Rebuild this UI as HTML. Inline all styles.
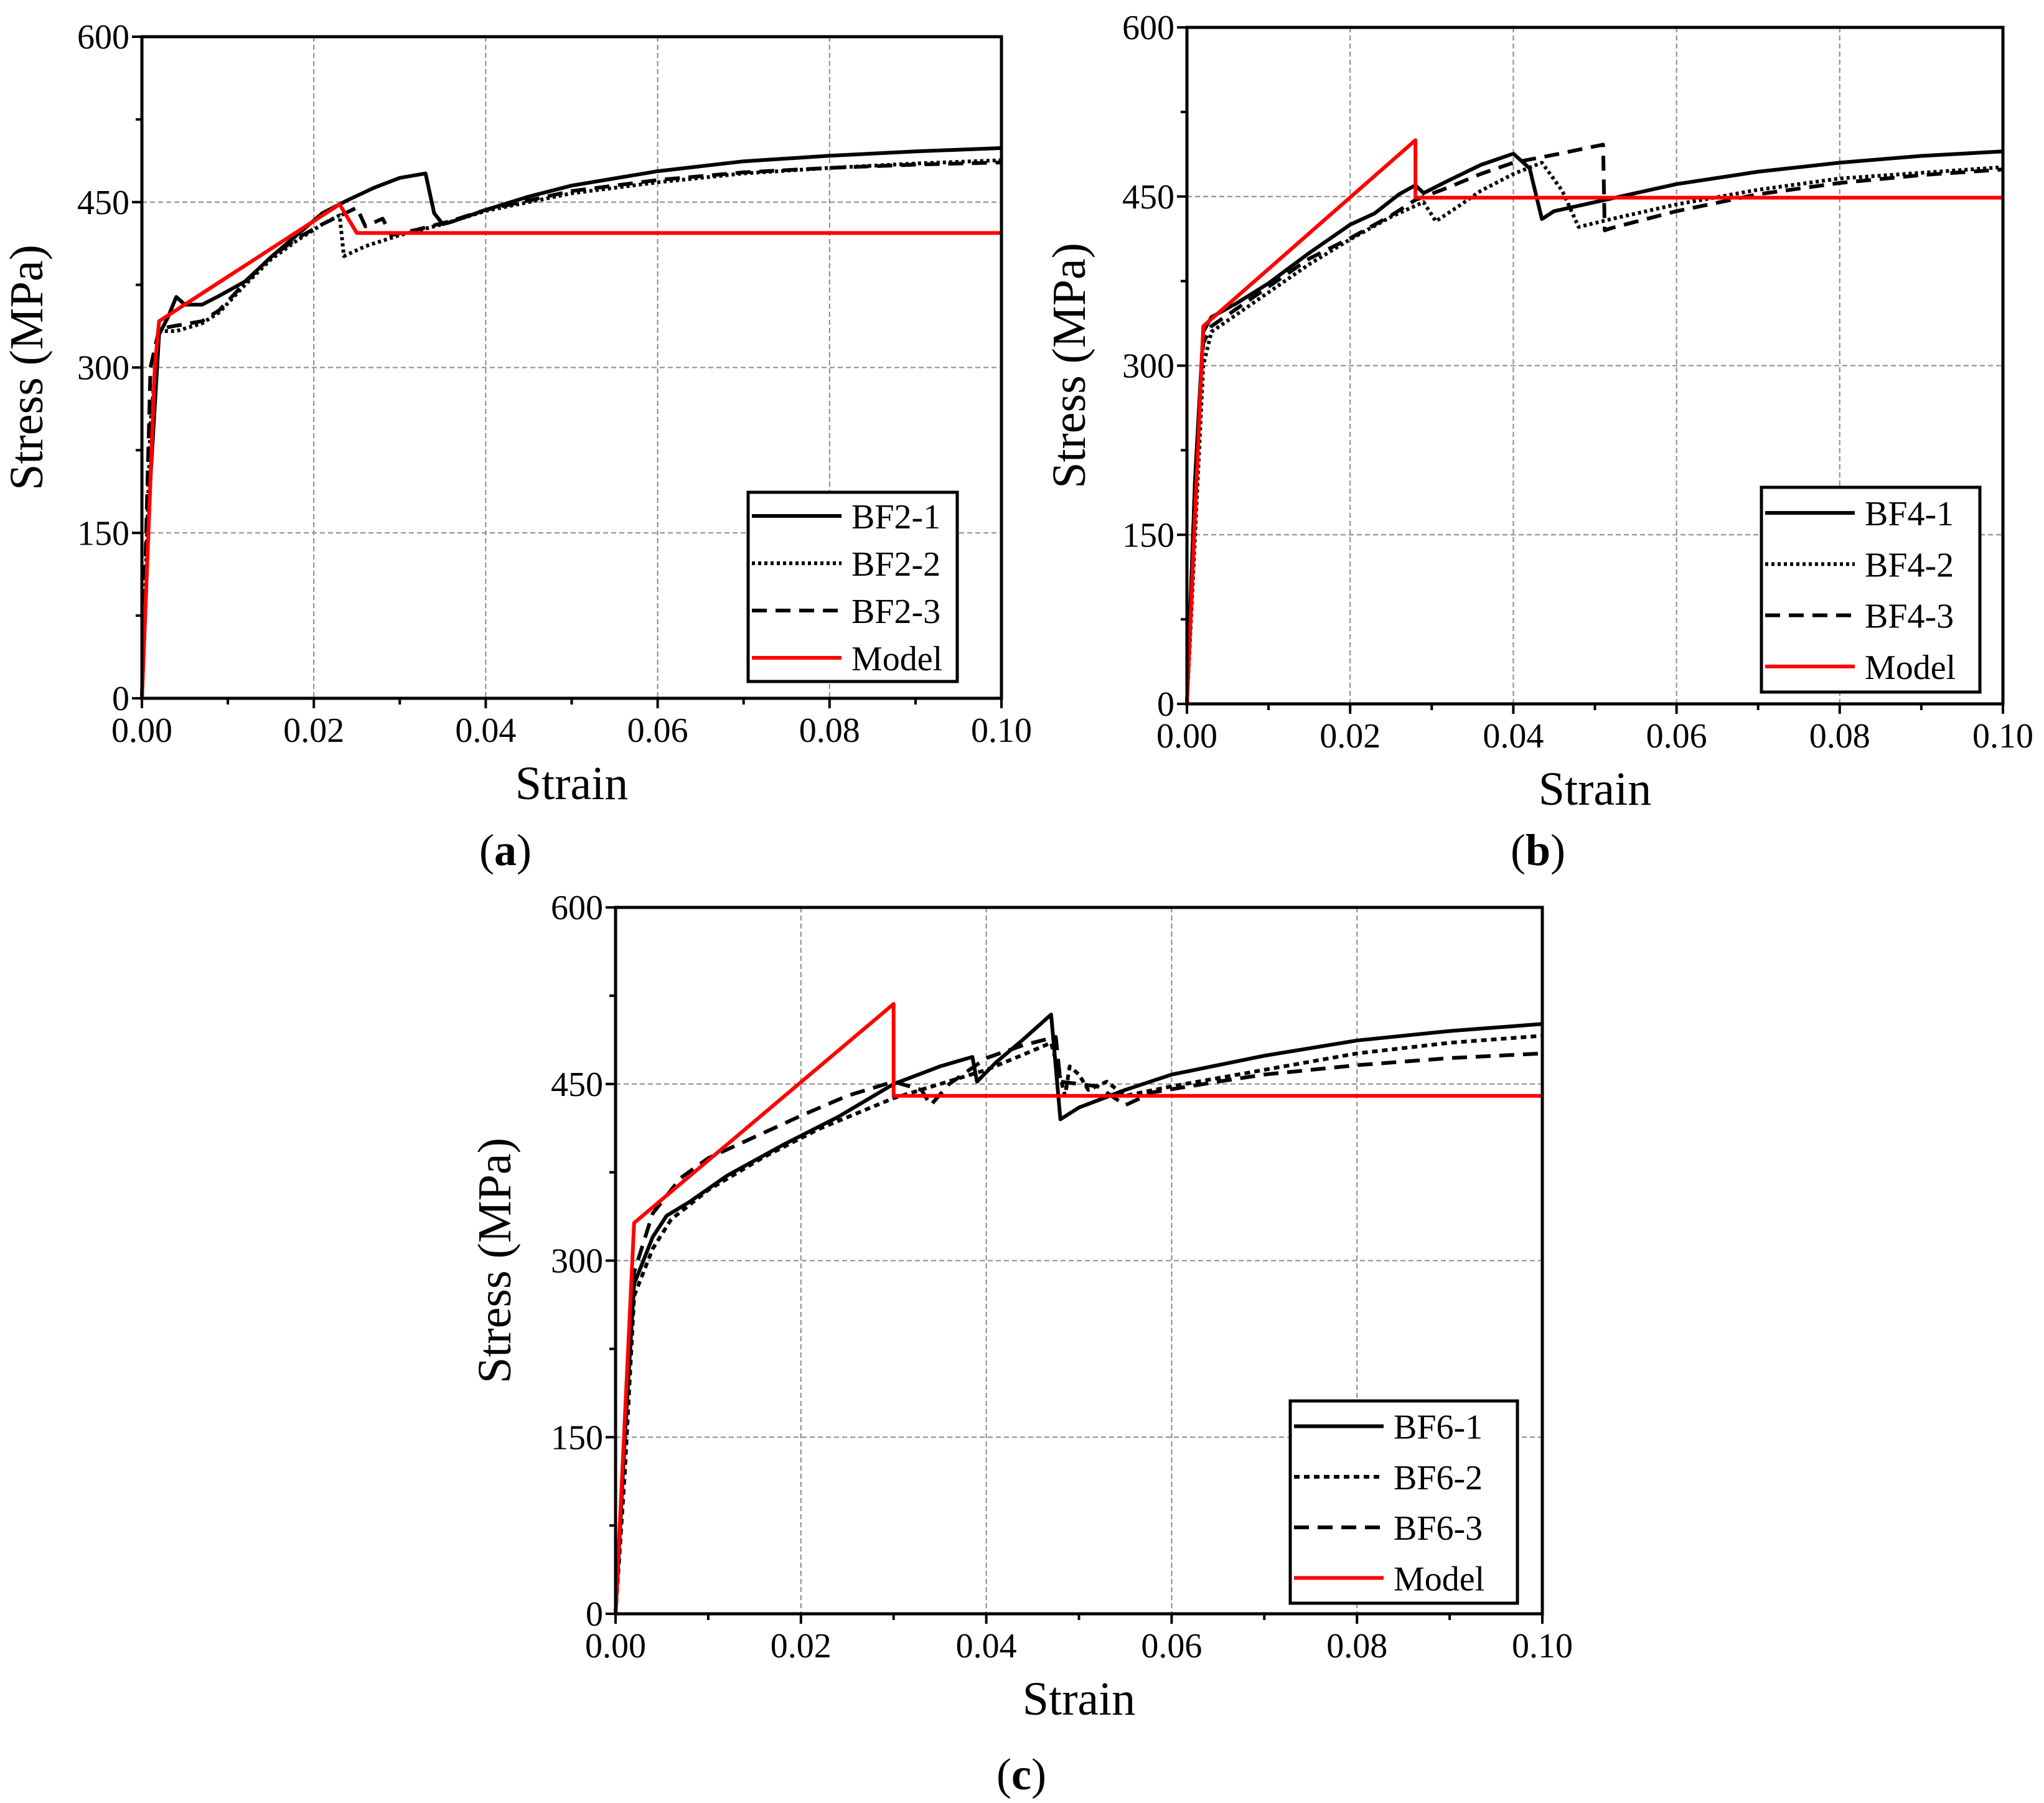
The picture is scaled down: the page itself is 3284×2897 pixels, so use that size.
<!DOCTYPE html>
<html><head><meta charset="utf-8"><style>
html,body{margin:0;padding:0;background:#fff}
svg{display:block}
text{font-family:"Liberation Serif",serif;fill:#000}
</style></head><body>
<svg id="fig" width="3284" height="2897" viewBox="0 0 3284 2897" xmlns="http://www.w3.org/2000/svg"></svg>
<script>
// ---- data (strain, stress MPa) ----
const xTicks=[0,0.02,0.04,0.06,0.08,0.10];
const xTickLabels=["0.00","0.02","0.04","0.06","0.08","0.10"];
const yTicks=[0,150,300,450,600];
const yTickLabels=["0","150","300","450","600"];

const bf21=[[0,0],[0.001,200],[0.002,330],[0.003,345],[0.004,364],[0.005,357],[0.007,357],[0.009,365],[0.012,378],[0.015,400],[0.018,420],[0.021,440],[0.024,452],[0.027,463],[0.030,472],[0.033,476],[0.034,440],[0.035,430],[0.036,432],[0.040,443],[0.045,455],[0.050,465],[0.06,478],[0.07,487],[0.08,492],[0.09,496],[0.1,499]];
const bf22=[[0,0],[0.001,250],[0.002,333],[0.004,333],[0.007,340],[0.009,350],[0.012,375],[0.015,398],[0.018,415],[0.021,430],[0.023,438],[0.0235,401],[0.026,410],[0.03,420],[0.035,430],[0.04,442],[0.05,458],[0.06,468],[0.07,476],[0.08,481],[0.09,485],[0.1,488]];
const bf23=[[0,0],[0.001,300],[0.002,335],[0.004,338],[0.007,342],[0.009,352],[0.012,377],[0.015,400],[0.018,417],[0.021,430],[0.025,445],[0.026,428],[0.028,435],[0.029,420],[0.032,425],[0.036,433],[0.04,443],[0.05,460],[0.06,470],[0.07,477],[0.08,481],[0.09,484],[0.1,486]];
const modelA=[[0,0],[0.0015,300],[0.002,342],[0.023,448],[0.025,422],[0.1,422]];

const bf41=[[0,0],[0.001,200],[0.002,330],[0.003,343],[0.006,355],[0.01,373],[0.015,400],[0.02,425],[0.023,435],[0.026,452],[0.028,460],[0.029,453],[0.032,464],[0.036,478],[0.04,488],[0.042,475],[0.0435,430],[0.045,437],[0.05,445],[0.06,461],[0.07,472],[0.08,480],[0.09,486],[0.1,490]];
const bf42=[[0,0],[0.001,150],[0.002,300],[0.003,330],[0.006,345],[0.01,365],[0.015,390],[0.02,412],[0.025,432],[0.029,445],[0.0305,428],[0.033,440],[0.036,455],[0.04,470],[0.0435,480],[0.046,455],[0.048,423],[0.052,430],[0.06,443],[0.07,456],[0.08,466],[0.09,471],[0.1,476]];
const bf43=[[0,0],[0.001,200],[0.002,320],[0.003,335],[0.006,350],[0.01,370],[0.015,395],[0.02,413],[0.025,433],[0.028,447],[0.032,458],[0.036,470],[0.04,480],[0.045,487],[0.051,496],[0.0512,420],[0.052,422],[0.06,437],[0.07,452],[0.08,462],[0.09,469],[0.1,474]];
const modelB=[[0,0],[0.002,335],[0.028,500],[0.028,449],[0.1,449]];

const bf61=[[0,0],[0.001,150],[0.002,280],[0.004,320],[0.0055,338],[0.008,350],[0.012,372],[0.018,398],[0.024,422],[0.03,450],[0.035,465],[0.0385,473],[0.039,452],[0.041,468],[0.044,488],[0.047,509],[0.048,420],[0.05,430],[0.055,445],[0.06,458],[0.07,474],[0.08,487],[0.09,495],[0.1,501]];
const bf62=[[0,0],[0.001,120],[0.002,270],[0.004,310],[0.006,335],[0.01,360],[0.016,388],[0.022,412],[0.03,438],[0.035,450],[0.04,462],[0.044,475],[0.047,485],[0.0485,440],[0.049,465],[0.05,458],[0.051,445],[0.053,452],[0.055,440],[0.06,448],[0.07,462],[0.08,476],[0.09,485],[0.1,491]];
const bf63=[[0,0],[0.001,150],[0.002,290],[0.004,340],[0.007,370],[0.01,387],[0.015,405],[0.02,423],[0.025,440],[0.03,452],[0.033,445],[0.034,432],[0.036,450],[0.04,472],[0.044,483],[0.0475,490],[0.048,452],[0.052,448],[0.055,432],[0.058,443],[0.065,452],[0.07,458],[0.08,466],[0.09,472],[0.1,476]];
const modelC=[[0,0],[0.002,332],[0.03,518],[0.03,440],[0.1,440]];

const NS="http://www.w3.org/2000/svg";
const svg=document.getElementById('fig');
function mk(tag,attrs,parent,txt){const e=document.createElementNS(NS,tag);for(const k in attrs)e.setAttribute(k,attrs[k]);if(txt!==undefined)e.textContent=txt;(parent||svg).appendChild(e);return e;}

const styles={solid:{stroke:"#000",dash:"none",w:6},dot:{stroke:"#000",dash:"5 5",w:6},dot2:{stroke:"#000",dash:"9 7",w:6},dash:{stroke:"#000",dash:"24 14",w:6},red:{stroke:"#f00",dash:"none",w:6}};

function panel(p){
  const g=mk('g',{});
  
  
  const X=v=>p.L+(v-0)/(0.1)*(p.R-p.L);
  const Y=v=>p.B-(v/600)*(p.B-p.T);
  xTicks.forEach(t=>{if(t>0&&t<0.1){const l=mk('line',{x1:X(t),x2:X(t),y1:p.T,y2:p.B,stroke:"#888","stroke-width":2,"stroke-dasharray":"8 5"},g);}});
  yTicks.forEach(t=>{if(t>0&&t<600){const l=mk('line',{x1:p.L,x2:p.R,y1:Y(t),y2:Y(t),stroke:"#888","stroke-width":2,"stroke-dasharray":"8 5"},g);}});
  p.series.forEach(s=>{
    const st=styles[s.style];
    const d=s.data.map((pt,i)=>(i?'L':'M')+X(pt[0]).toFixed(1)+' '+Y(pt[1]).toFixed(1)).join(' ');
    const path=mk('path',{d:d,fill:"none",stroke:st.stroke,"stroke-width":st.w,"stroke-dasharray":st.dash,"stroke-linejoin":"round"},g);
    
    
  });
  const fr=mk('rect',{x:p.L,y:p.T,width:p.R-p.L,height:p.B-p.T,fill:"none",stroke:"#000","stroke-width":5},g);
  
  
  for(let i=0;i<=10;i++){const v=i*0.01;const major=i%2===0;
    mk('line',{x1:X(v),x2:X(v),y1:p.B,y2:p.B+(major?16:10),stroke:"#000","stroke-width":4},g);}
  xTicks.forEach((t,i)=>{const tx=mk('text',{x:X(t),y:p.B+70,"font-size":56,"text-anchor":"middle"},g,xTickLabels[i]);
    });
  for(let i=0;i<=8;i++){const v=i*75;const major=i%2===0;
    mk('line',{x1:p.L,x2:p.L-(major?16:10),y1:Y(v),y2:Y(v),stroke:"#000","stroke-width":4},g);}
  yTicks.forEach((t,i)=>{const tx=mk('text',{x:p.L-20,y:Y(t)+19,"font-size":56,"text-anchor":"end"},g,yTickLabels[i]);
    });
  const xt=mk('text',{x:(p.L+p.R)/2,y:p.B+162,"font-size":76,"text-anchor":"middle"},g,"Strain");
  
  const yt=mk('text',{x:0,y:0,"font-size":76,"text-anchor":"middle",transform:`translate(${p.yTitleX},${(p.T+p.B)/2}) rotate(-90)`},g,"Stress (MPa)");
  
  const pl=mk('text',{x:p.lab[0],y:p.lab[1],"font-size":72,"text-anchor":"middle"},g);
  
  mk('tspan',{},pl,"(");mk('tspan',{"font-weight":"bold"},pl,p.letter);mk('tspan',{},pl,")");
  const lg=mk('g',{},g);
  
  const [lx,ly,lw,lh]=p.leg;
  mk('rect',{x:lx,y:ly,width:lw,height:lh,fill:"#fff",stroke:"#000","stroke-width":5},lg);
  const rowH=lh/4;
  p.series.forEach((s,i)=>{
    const st=styles[s.style];const cy=ly+rowH*(i+0.5);
    const e=mk('g',{},lg);
    
    mk('line',{x1:lx+6,x2:lx+150,y1:cy,y2:cy,stroke:st.stroke,"stroke-width":st.w,"stroke-dasharray":st.dash},e);
    mk('text',{x:lx+166,y:cy+20,"font-size":56},e,s.label);
  });
}

panel({name:'panel-a',letter:'a',L:228,R:1609,T:59,B:1122,yTitleX:68,lab:[812,1390],leg:[1202,791,336,304],
  series:[{label:'BF2-1',data:bf21,style:'solid'},{label:'BF2-2',data:bf22,style:'dot'},{label:'BF2-3',data:bf23,style:'dash'},{label:'Model',data:modelA,style:'red'}]});
panel({name:'panel-b',letter:'b',L:1907,R:3218,T:44,B:1131,yTitleX:1743,lab:[2471,1390],leg:[2830,783,351,329],
  series:[{label:'BF4-1',data:bf41,style:'solid'},{label:'BF4-2',data:bf42,style:'dot'},{label:'BF4-3',data:bf43,style:'dash'},{label:'Model',data:modelB,style:'red'}]});
panel({name:'panel-c',letter:'c',L:989,R:2478,T:1458,B:2593,yTitleX:820,lab:[1641,2875],leg:[2073,2251,365,325],
  series:[{label:'BF6-1',data:bf61,style:'solid'},{label:'BF6-2',data:bf62,style:'dot2'},{label:'BF6-3',data:bf63,style:'dash'},{label:'Model',data:modelC,style:'red'}]});
</script>
</body></html>
